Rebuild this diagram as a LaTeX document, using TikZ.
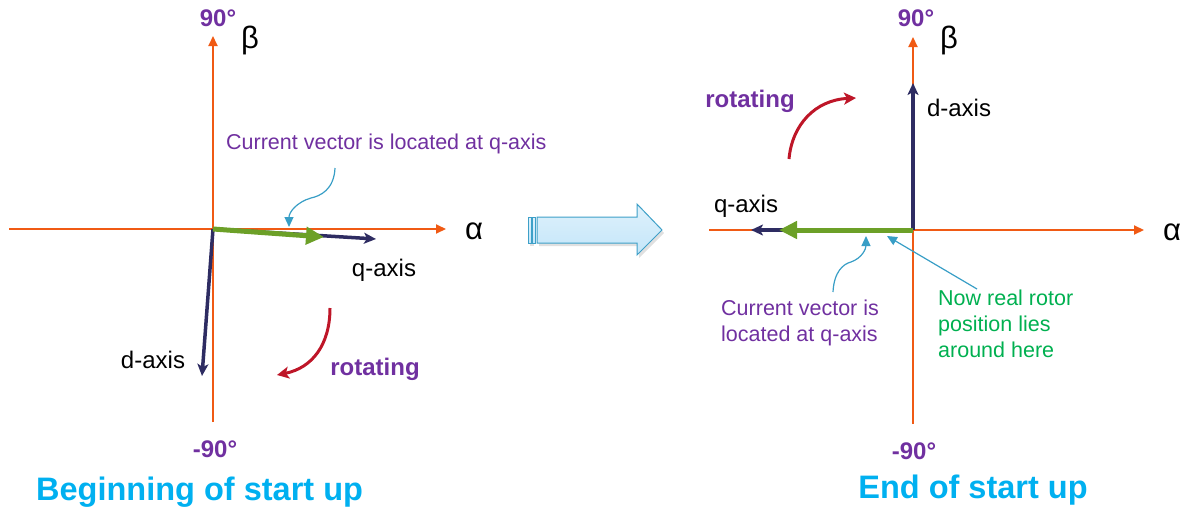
\documentclass[tikz,border=0pt]{standalone}
\usepackage{fontspec}
\setmainfont{Liberation Sans}
\usetikzlibrary{arrows.meta}

\definecolor{axisorange}{RGB}{240,90,20}
\definecolor{lblpurple}{RGB}{112,48,160}
\definecolor{vecnavy}{RGB}{46,44,98}
\definecolor{vecgreen}{RGB}{108,160,40}
\definecolor{rotred}{RGB}{190,22,40}
\definecolor{noteteal}{RGB}{56,158,198}
\definecolor{notegreen}{RGB}{0,176,80}
\definecolor{titleblue}{RGB}{0,176,240}
\definecolor{bigfill}{RGB}{196,230,249}
\definecolor{bigedge}{RGB}{62,160,200}

\newcommand{\fs}[1]{\fontsize{#1}{1.2\dimexpr#1pt\relax}\selectfont}

\tikzset{
  axis/.style={draw=axisorange, line width=2pt, -{Triangle[length=10pt,width=9pt]}},
  axisline/.style={draw=axisorange, line width=2pt},
  navyvec/.style={draw=vecnavy, line width=3.5pt, -{Stealth[length=12pt,width=11pt,inset=3pt]}},
  greenvec/.style={draw=vecgreen, line width=5pt, -{Triangle[length=18pt,width=17pt]}},
  rotarrow/.style={draw=rotred, line width=3pt, -{Stealth[length=12pt,width=12pt,inset=3pt]}},
  noteline/.style={draw=noteteal, line width=1.2pt, -{Triangle[length=10pt,width=9pt]}},
  deg/.style={inner sep=0pt, text=lblpurple, font=\fs{24}\bfseries},
  greek/.style={inner sep=0pt, font=\fs{31}},
  axlabel/.style={inner sep=0pt, font=\fs{24}},
  rot/.style={inner sep=0pt, text=lblpurple, font=\fs{24}\bfseries},
  note/.style={inner sep=0pt, text=lblpurple, font=\fs{21.5}, align=left},
  gnote/.style={inner sep=0pt, text=notegreen, font=\fs{21.5}, align=left},
  title/.style={inner sep=0pt, text=titleblue, font=\fs{32.5}\bfseries},
}

\begin{document}
\begin{tikzpicture}[x=1pt,y=-1pt]
\useasboundingbox (0,0) rectangle (1188,514);

% ---------- left frame: beginning of start up ----------
\coordinate (O1) at (213,229);
\draw[axisline] (O1) -- (9,229);
\draw[axis] (O1) -- (446,229);
\draw[axis] (213,422) -- (213,36);

\node[deg]   (l90)  at (218,18)  {90°};
\node[greek] (lbeta) at (250,40) {β};
\node[greek] (lalpha) at (474,231) {α};
\node[deg]   (lm90) at (215,449) {-90°};

\coordinate (lq) at (376,239);
\coordinate (lg) at (324,237);
\coordinate (ld) at (202,376);
\draw[navyvec] (O1) -- (lq);
\draw[navyvec] (O1) -- (ld);
\draw[greenvec] (O1) -- (lg);

\node[axlabel] (lqlab) at (384,270) {q-axis};
\node[axlabel] (ldlab) at (153,360) {d-axis};

\node[note, anchor=west] (lnote) at (226,144) {Current vector is located at q-axis};
\coordinate (lnoteend) at (289,227);
\draw[noteline] (335,168) .. controls (334,190) and (320,196) .. (311,198)
                          .. controls (297,202) and (289,212) .. (lnoteend);

\coordinate (lrs) at (330,308);
\coordinate (lre) at (277,375);
\draw[rotarrow] (lrs) .. controls (330,345) and (312,368) .. (lre);
\node[rot] (lrot) at (375,369) {rotating};

\node[title, anchor=west] (ltitle) at (36,492) {Beginning of start up};

% ---------- transition arrow ----------
\fill[gray!40, opacity=0.6] (530,220) rectangle (534,246);
\fill[gray!40, opacity=0.6] (539,220) -- (639,220) -- (639,207) -- (664,233)
   -- (639,258) -- (639,246) -- (539,246) -- cycle;
\shade[top color=bigfill!55, bottom color=bigfill, draw=bigedge, line width=1pt]
   (537,217) -- (637,217) -- (637,204) -- (662,230) -- (637,255) -- (637,243)
   -- (537,243) -- cycle;
\shade[top color=bigfill!55, bottom color=bigfill, draw=bigedge, line width=1pt]
   (528,217) rectangle (531,243);
\shade[top color=bigfill!55, bottom color=bigfill, draw=bigedge, line width=1pt]
   (532.5,217) rectangle (535,243);

% ---------- right frame: end of start up ----------
\coordinate (O2) at (913,230);
\draw[axisline] (O2) -- (709,230);
\draw[axis] (O2) -- (1144,230);
\draw[axis] (913,424) -- (913,37);

\node[deg]   (r90)  at (916,18)  {90°};
\node[greek] (rbeta) at (949,40) {β};
\node[greek] (ralpha) at (1172,232) {α};
\node[deg]   (rm90) at (914,451) {-90°};

\coordinate (rq) at (751,230);
\coordinate (rg) at (779,230);
\coordinate (rd) at (913,83);
\draw[navyvec] (O2) -- (rq);
\draw[navyvec] (O2) -- (rd);
\draw[greenvec] (O2) -- (rg);

\node[axlabel] (rqlab) at (746,206) {q-axis};
\node[axlabel] (rdlab) at (959,108) {d-axis};

\coordinate (rrs) at (789,159);
\coordinate (rre) at (856,98);
\draw[rotarrow] (rrs) .. controls (792,125) and (815,100) .. (rre);
\node[rot] (rrot) at (750,101) {rotating};

\node[note, anchor=north west] (rnote) at (721,300) {Current vector is\\located at q-axis};
\coordinate (rnotestart) at (833,292);
\coordinate (rnoteend) at (866,236);
\draw[noteline] (rnotestart) .. controls (834,272) and (843,264) .. (851,262)
                             .. controls (862,258) and (866,249) .. (rnoteend);

\node[gnote, anchor=north west] (rgnote) at (938,290) {Now real rotor\\position lies\\around here};
\coordinate (rgstart) at (977,289);
\coordinate (rgend) at (887,236);
\draw[noteline] (rgstart) -- (rgend);

\node[title] (rtitle) at (973,490) {End of start up};
\end{tikzpicture}
\end{document}
